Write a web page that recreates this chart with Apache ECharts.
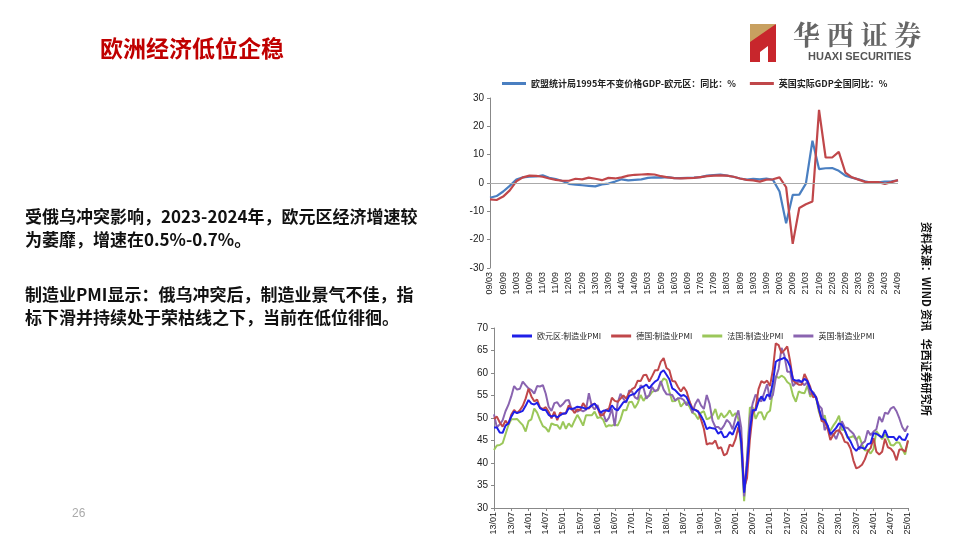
<!DOCTYPE html>
<html><head><meta charset="utf-8">
<script src="https://cdn.jsdelivr.net/npm/echarts@6/dist/echarts.min.js"></script>
<style>html,body{margin:0;padding:0;background:#fff}#c{width:960px;height:540px}</style>
</head><body><div id="c"></div>
<script>
// ---- Top chart: quarterly GDP yoy, 2009Q1..2024Q3
const gdpQuarters = [];
for (let y = 9; y <= 24; y++) for (const m of ['03','06','09','12']) { if (!(y === 24 && m === '12')) gdpQuarters.push(String(y).padStart(2,'0') + '/' + m); }
const euroGdp = [-5.2,-4.6,-3.0,-1.0,1.2,2.0,2.2,2.3,2.7,1.8,1.4,0.7,-0.3,-0.6,-0.8,-1.0,-1.2,-0.5,-0.2,0.5,1.3,0.9,1.1,1.3,1.8,2.0,1.9,2.1,1.7,1.7,1.8,1.9,2.1,2.6,2.8,3.0,2.6,2.2,1.6,1.2,1.5,1.3,1.6,1.1,-3.0,-14.2,-4.2,-4.1,-0.2,14.9,4.9,5.2,5.3,4.3,2.6,1.9,1.3,0.6,0.1,0.2,0.5,0.6,0.9];
const ukGdp = [-5.8,-6.0,-4.8,-2.6,0.6,2.0,2.6,2.5,2.2,1.6,1.1,0.8,0.8,1.5,1.3,1.9,1.5,1.0,1.8,1.6,2.0,2.6,2.9,3.0,3.1,3.0,2.4,2.0,1.7,1.6,1.7,1.8,2.1,2.4,2.6,2.7,2.6,2.2,1.6,1.1,0.9,0.5,1.2,1.3,2.0,-1.5,-21.5,-8.8,-7.5,-6.5,25.8,9.0,9.0,11.0,3.7,2.0,1.2,0.4,0.3,0.3,-0.3,0.3,1.0];

// ---- Bottom chart: monthly manufacturing PMI 2013/01..2025/01
const pmiMonths = [];
for (let y = 13; y <= 25; y++) for (let m = 1; m <= 12; m++) { if (y === 25 && m > 1) break; pmiMonths.push(String(y).padStart(2,'0') + '/' + String(m).padStart(2,'0')); }
const euroPmi = [47.9,47.9,46.8,46.7,48.3,48.8,50.3,51.4,51.1,51.3,51.6,52.7,
54.0,53.2,53.0,53.4,52.2,51.8,51.8,50.7,50.3,50.6,50.1,50.6,
51.0,51.0,52.2,52.0,52.2,52.5,52.4,52.3,52.0,52.3,52.8,53.2,
52.3,51.2,51.6,51.7,51.5,52.8,52.0,51.7,52.6,53.5,53.7,54.9,
55.2,55.4,56.2,56.7,57.0,57.4,56.6,57.4,58.1,58.5,60.1,60.6,
59.6,58.6,56.6,56.2,55.5,54.9,55.1,54.6,53.2,52.0,51.8,51.4,
50.5,49.3,47.5,47.9,47.7,47.6,46.5,47.0,45.7,45.9,46.9,46.3,
47.9,49.2,44.5,33.4,39.4,47.4,51.8,51.7,53.7,54.8,53.8,55.2,
54.8,57.9,62.5,62.9,63.1,63.4,62.8,61.4,58.6,58.3,58.4,58.0,
58.7,58.2,56.5,55.5,54.6,52.1,49.8,49.6,48.4,46.4,47.1,47.8,
48.8,48.5,47.3,45.8,44.8,43.4,42.7,43.5,43.4,43.1,44.2,44.4,
46.6,46.5,46.1,45.7,47.3,45.8,45.8,45.8,45.0,46.0,45.2,45.1,
46.6];
const dePmi = [49.8,50.3,49.0,48.1,49.4,48.6,50.7,51.8,51.1,51.7,52.7,54.3,
56.5,54.8,53.7,54.1,52.3,52.0,52.4,51.4,49.9,51.4,49.5,51.2,
50.9,51.1,52.8,52.1,51.1,51.9,51.8,53.3,52.3,52.1,52.9,53.2,
52.3,50.5,50.7,51.8,52.1,54.5,53.8,53.6,54.3,55.0,54.3,55.6,
56.4,56.8,58.3,58.2,59.5,59.6,58.1,59.3,60.6,60.6,62.5,63.3,
61.1,60.6,58.2,58.1,56.9,55.9,56.9,55.9,53.7,52.2,51.8,51.5,
49.7,47.6,44.1,44.4,44.3,45.0,43.2,43.5,41.7,42.1,44.1,43.7,
45.3,48.0,45.4,34.5,36.6,45.2,51.0,52.2,56.4,58.2,57.8,58.3,
57.1,60.7,66.6,66.2,64.4,65.1,65.9,62.6,58.4,57.8,57.4,57.4,
59.8,58.4,56.9,54.6,54.8,52.0,49.3,49.1,47.8,45.1,46.2,47.1,
47.3,46.3,44.7,44.5,43.2,40.6,38.8,39.1,39.6,40.8,42.6,43.3,
45.5,42.5,41.9,42.5,45.4,43.5,43.2,42.4,40.6,43.0,43.0,42.5,
45.0];
const frPmi = [42.9,43.9,44.0,44.4,46.4,48.4,49.7,49.7,49.8,49.1,48.4,47.0,
49.3,49.7,52.1,51.2,49.6,48.2,47.8,46.9,48.8,48.5,48.4,47.5,
49.2,47.6,48.8,48.0,49.4,50.7,49.6,48.3,50.6,50.6,50.6,51.4,
50.0,50.2,49.6,48.0,48.4,48.3,48.6,48.3,49.7,51.8,51.7,53.5,
53.6,52.2,53.3,55.1,53.8,54.8,54.9,55.8,56.1,56.1,57.7,58.8,
58.4,55.9,53.7,53.8,54.4,52.5,53.3,53.5,52.5,51.2,50.8,49.7,
51.2,51.5,49.7,50.0,50.6,52.0,49.7,51.1,50.1,50.7,51.7,50.4,
51.1,49.8,43.2,31.5,40.6,52.3,52.4,49.8,51.2,51.3,49.6,51.1,
51.6,56.1,59.3,58.9,59.4,59.0,58.0,57.5,55.0,53.6,55.9,55.6,
55.5,57.2,54.7,55.7,54.6,51.4,49.5,50.6,47.7,47.2,48.3,49.2,
50.5,47.4,47.3,45.6,45.7,46.0,45.1,46.0,44.2,42.8,42.9,42.1,
43.1,47.1,46.2,45.3,46.4,45.4,44.0,43.9,44.6,44.5,43.1,41.9,
45.0];
const ukPmi = [50.8,47.9,48.6,49.5,51.5,52.9,54.8,57.1,56.3,56.5,58.1,57.3,
56.6,56.2,55.4,57.1,57.0,57.3,55.4,52.5,51.6,53.3,53.5,52.5,
53.1,53.9,54.0,51.8,52.0,51.4,51.8,51.5,51.8,55.5,52.7,51.9,
52.9,50.8,51.0,49.2,50.1,52.1,48.2,53.3,55.4,54.3,53.4,56.1,
55.9,54.6,54.2,57.3,56.7,54.3,55.1,56.9,55.9,56.3,58.2,56.3,
55.3,55.2,55.1,53.9,54.4,54.4,54.0,52.8,53.8,51.1,53.1,54.2,
52.8,52.0,55.1,53.1,49.4,48.0,48.0,47.4,48.3,49.6,48.9,47.5,
50.0,51.7,47.8,32.6,40.7,50.1,53.3,55.2,54.1,53.7,55.6,57.5,
54.1,55.1,58.9,60.9,65.6,63.9,60.3,60.3,57.1,57.8,58.1,57.9,
57.3,58.0,55.2,55.8,54.6,52.8,52.1,47.3,48.4,46.2,46.5,45.3,
47.0,49.3,47.9,47.8,47.1,46.5,45.3,43.0,44.3,44.8,47.2,46.2,
47.0,47.5,50.3,49.1,51.2,50.9,52.1,52.5,51.5,49.9,48.0,47.0,
48.3];

const F = 'Liberation Sans, Arial, sans-serif';
const CJK = '"Noto Sans CJK SC", sans-serif';
const chart = echarts.init(document.getElementById('c'));
function line(name, data, color, x, y, w, extra) {
  return Object.assign({ name, type: 'line', data, xAxisIndex: x, yAxisIndex: y, symbol: 'none',
    lineStyle: { color, width: w }, itemStyle: { color } }, extra || {});
}
chart.setOption({
  animation: false,
  textStyle: { fontFamily: F },
  grid: [
    { left: 490, top: 98, width: 408, height: 170 },
    { left: 494, top: 328, width: 414, height: 180 }
  ],
  legend: [
    { data: ['欧盟统计局1995年不变价格GDP-欧元区：同比：%', '英国实际GDP全国同比：%'], left: 497, top: 74, width: 440, itemWidth: 24, itemHeight: 3, itemGap: 14,
      textStyle: { fontSize: 9, fontFamily: CJK, fontWeight: 'bold', color: '#222' }, icon: 'rect' },
    { data: ['欧元区:制造业PMI', '德国:制造业PMI', '法国:制造业PMI', '英国:制造业PMI'], left: 507, top: 327, itemWidth: 20, itemHeight: 3, itemGap: 10,
      textStyle: { fontSize: 8, fontFamily: CJK, color: '#222' }, icon: 'rect' }
  ],
  xAxis: [
    { type: 'category', gridIndex: 0, data: gdpQuarters, boundaryGap: false,
      axisLine: { onZero: false, show: false }, axisTick: { show: false },
      axisLabel: { interval: 1, rotate: 90, fontSize: 9, color: '#222', margin: 4, fontFamily: F } },
    { type: 'category', gridIndex: 1, data: pmiMonths, boundaryGap: false,
      axisLine: { lineStyle: { color: '#888' } }, axisTick: { interval: 5, length: 3, lineStyle: { color: '#888' } },
      axisLabel: { interval: 5, rotate: 90, fontSize: 9, color: '#222', margin: 4, fontFamily: F } }
  ],
  yAxis: [
    { type: 'value', gridIndex: 0, min: -30, max: 30, interval: 10, splitLine: { show: false },
      axisLine: { show: true, lineStyle: { color: '#888' } }, axisTick: { show: true, length: 3, lineStyle: { color: '#888' } },
      axisLabel: { fontSize: 10, color: '#222', margin: 6 } },
    { type: 'value', gridIndex: 1, min: 30, max: 70, interval: 5, splitLine: { show: false },
      axisLine: { show: true, lineStyle: { color: '#888' } }, axisTick: { show: true, length: 3, lineStyle: { color: '#888' } },
      axisLabel: { fontSize: 10, color: '#222', margin: 6 } }
  ],
  series: [
    line('欧盟统计局1995年不变价格GDP-欧元区：同比：%', euroGdp, '#4a7fc1', 0, 0, 2.2, {
      markLine: { silent: true, symbol: 'none', label: { show: false }, lineStyle: { color: '#aaa', type: 'solid', width: 1 }, data: [{ yAxis: 0 }] } }),
    line('英国实际GDP全国同比：%', ukGdp, '#c0474a', 0, 0, 2.2),
    line('法国:制造业PMI', frPmi, '#9bc75a', 1, 1, 2),
    line('英国:制造业PMI', ukPmi, '#8a64b0', 1, 1, 2),
    line('德国:制造业PMI', dePmi, '#c0474a', 1, 1, 2),
    line('欧元区:制造业PMI', euroPmi, '#1f1fe8', 1, 1, 2)
  ],
  graphic: [
    { type: 'text', left: 100, top: 37, style: { text: '欧洲经济低位企稳', fontSize: 23, fontWeight: 'bold', fill: '#c00000', fontFamily: CJK } },
    { type: 'polygon', shape: { points: [[750,24],[760,24],[760,42],[750,42]] }, style: { fill: '#c8a060' } },
    { type: 'polygon', shape: { points: [[760,24],[776,24],[760,40]] }, style: { fill: '#c8a060' } },
    { type: 'polygon', shape: { points: [[750,42],[776,24],[776,62],[768,62],[768,46],[760,52],[760,62],[750,62]] }, style: { fill: '#c8262c' } },
    { type: 'text', left: 793, top: 21, style: { text: '华 西 证 券', fontSize: 27, fontWeight: 'bold', fill: '#666', fontFamily: '"Noto Serif CJK SC", "Noto Sans CJK SC", serif' } },
    { type: 'text', left: 808, top: 51, style: { text: 'HUAXI SECURITIES', fontSize: 11, fontWeight: 'bold', fill: '#555', fontFamily: F } },
    { type: 'text', left: 25, top: 205, style: { text: '受俄乌冲突影响，2023-2024年，欧元区经济增速较\n为萎靡，增速在0.5%-0.7%。', fontSize: 17, lineHeight: 23, fontWeight: 'bold', fill: '#111', fontFamily: CJK } },
    { type: 'text', left: 25, top: 283, style: { text: '制造业PMI显示：俄乌冲突后，制造业景气不佳，指\n标下滑并持续处于荣枯线之下，当前在低位徘徊。', fontSize: 17, lineHeight: 23, fontWeight: 'bold', fill: '#111', fontFamily: CJK } },
    { type: 'text', left: 72, top: 508, style: { text: '26', fontSize: 12, fill: '#aaa', fontFamily: F } },
    { type: 'text', x: 932, y: 222, rotation: -Math.PI / 2, style: { text: '资料来源：WIND 资讯   华西证券研究所', fontSize: 11, fontWeight: 'bold', fill: '#111', fontFamily: CJK, verticalAlign: 'top' } }
  ]
});
</script></body></html>
